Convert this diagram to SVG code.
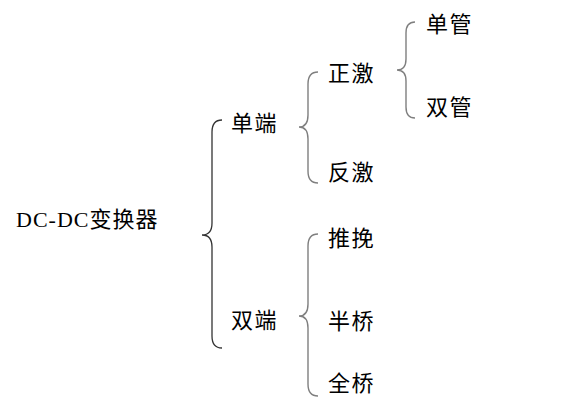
<svg xmlns="http://www.w3.org/2000/svg" width="573" height="420" viewBox="0 0 573 420">
<style>
text{font-family:"Liberation Serif","Noto Sans CJK SC",serif;font-size:22px;fill:#000;letter-spacing:1.5px}
.b{fill:none;stroke:#7f7f7f;stroke-width:1.4}
.b0{fill:none;stroke:#333;stroke-width:1.3}
</style>
<rect width="573" height="420" fill="#fff"/>
<g id="connectors">
<path class="b0" d="M222,120 Q212,120 212,132 L212,223 Q212,235 202,235 Q212,235 212,247 L212,336 Q212,348 222,348"/>
<path class="b" d="M318,72 Q308,72 308,84 L308,115 Q308,127 299,127 Q308,127 308,139 L308,171 Q308,183 318,183"/>
<path class="b" d="M318,234 Q308,234 308,246 L308,304 Q308,316 299,316 Q308,316 308,328 L308,384 Q308,396 318,396"/>
<path class="b" d="M415,22 Q406,22 406,33 L406,59 Q406,70 397,70 Q406,70 406,81 L406,107 Q406,118 415,118"/>
</g>
<g id="root"><text x="16" y="227" style="letter-spacing:1px">DC-DC变换器</text></g>
<g id="single"><text x="231" y="131">单端</text></g>
<g id="double"><text x="231" y="328">双端</text></g>
<g id="forward"><text x="328" y="81">正激</text></g>
<g id="flyback"><text x="328" y="180">反激</text></g>
<g id="single-tube"><text x="426" y="32">单管</text></g>
<g id="double-tube"><text x="426" y="115">双管</text></g>
<g id="pushpull"><text x="328" y="246">推挽</text></g>
<g id="halfbridge"><text x="328" y="329">半桥</text></g>
<g id="fullbridge"><text x="328" y="391">全桥</text></g>
</svg>
